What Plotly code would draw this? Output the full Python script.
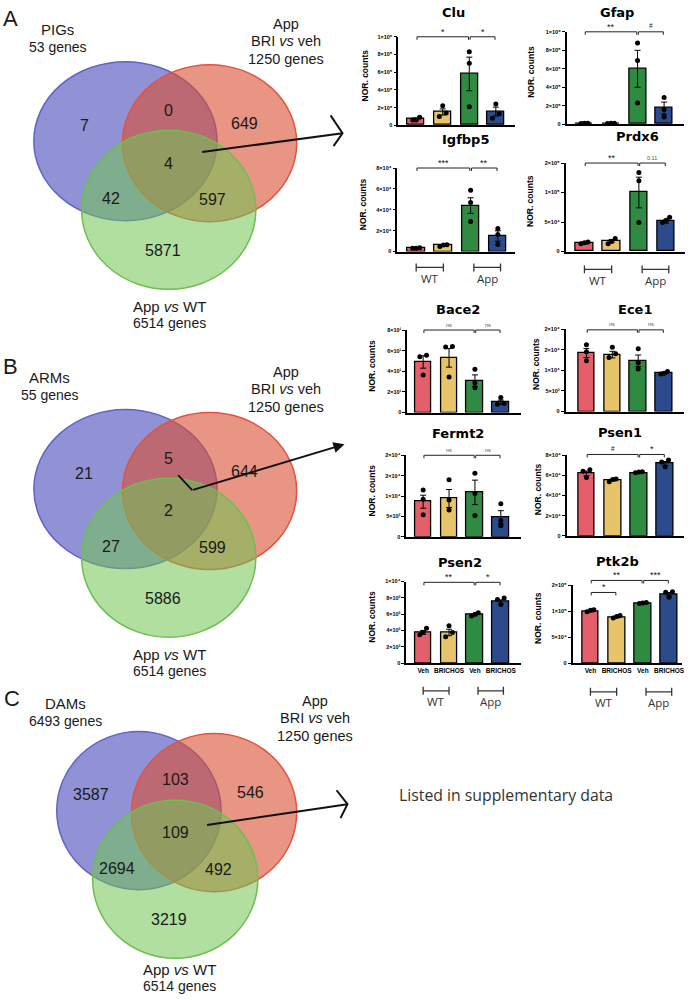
import plotly.graph_objects as go

W, H = 691, 1000


def PX(x):
    return x / W


def PY(y):
    return 1 - y / H


# ---------------------------------------------------------------- data
conditions = ["Veh", "BRICHOS", "Veh", "BRICHOS"]
genes = ["Clu", "Gfap", "Igfbp5", "Prdx6", "Bace2", "Ece1", "Fermt2", "Psen1", "Psen2", "Ptk2b"]

clu_mean = [7.0e4, 1.5e5, 5.8e5, 1.55e5]
clu_sem = [1.0e4, 3.5e4, 1.9e5, 5.0e4]
clu_pts = [[9.0e4, 6.0e4, 6.0e4], [2.2e5, 1.4e5, 1.0e5], [8.3e5, 7.0e5, 2.1e5], [2.4e5, 1.3e5, 8.0e4]]

gfap_mean = [1.0e4, 1.0e4, 6.0e5, 1.75e5]
gfap_sem = [1.0e3, 1.0e3, 2.0e5, 6.5e4]
gfap_pts = [[1.1e4, 1.0e4, 0.9e4], [1.0e4, 0.9e4, 1.1e4], [8.8e5, 6.9e5, 2.3e5], [2.9e5, 1.6e5, 8.0e4]]

igfbp5_mean = [3.1e3, 6.0e3, 4.4e4, 1.48e4]
igfbp5_sem = [3.0e2, 6.0e2, 7.5e3, 5.0e3]
igfbp5_pts = [[3.5e3, 3.0e3, 3.0e3], [6.5e3, 6.3e3, 4.8e3], [5.86e4, 4.7e4, 2.87e4], [2.2e4, 1.64e4, 6.6e3]]

prdx6_mean = [1.4e4, 1.8e4, 1.0e5, 5.1e4]
prdx6_sem = [1.5e3, 2.5e3, 2.6e4, 3.0e3]
prdx6_pts = [[1.3e4, 1.5e4, 1.6e4], [2.2e4, 1.7e4, 1.3e4], [1.34e5, 1.2e5, 4.9e4], [5.8e4, 5.3e4, 4.9e4]]

bace2_mean = [49, 53, 31, 10]
bace2_sem = [6, 9, 5.5, 2]
bace2_pts = [[55.5, 54, 36.5], [64, 63.5, 34.5], [42, 29, 24], [14.5, 8.7, 8]]

ece1_mean = [14.2e3, 13.8e3, 12.3e3, 9.3e3]
ece1_sem = [1.1e3, 0.8e3, 1.4e3, 0.2e3]
ece1_pts = [[16.2e3, 14.5e3, 12.3e3], [15.6e3, 14.0e3, 13.1e3], [15.2e3, 11.8e3, 10.3e3], [9.7e3, 9.3e3, 9.1e3]]

fermt2_mean = [8.6e3, 9.4e3, 10.9e3, 4.8e3]
fermt2_sem = [1.6e3, 2.2e3, 3.0e3, 1.6e3]
fermt2_pts = [[11.5e3, 9.2e3, 5.4e3], [14.0e3, 9.0e3, 6.6e3], [15.6e3, 10.6e3, 5.2e3], [8.1e3, 4.0e3, 2.7e3]]

psen1_mean = [62.0e3, 55.4e3, 62.3e3, 71.8e3]
psen1_sem = [2.3e3, 0.8e3, 0.3e3, 2.0e3]
psen1_pts = [[65.6e3, 64.0e3, 58.0e3], [56.4e3, 56.0e3, 53.8e3], [63.6e3, 63.3e3, 62.6e3], [75.4e3, 73.4e3, 68.5e3]]

psen2_mean = [3.75e3, 3.75e3, 5.9e3, 7.5e3]
psen2_sem = [0.25e3, 0.4e3, 0.1e3, 0.25e3]
psen2_pts = [[4.27e3, 3.75e3, 3.47e3], [4.56e3, 3.75e3, 3.23e3], [6.17e3, 5.97e3, 5.77e3], [7.98e3, 7.78e3, 7.18e3]]

ptk2b_mean = [1.0e5, 8.9e4, 1.15e5, 1.33e5]
ptk2b_sem = [1.2e3, 1.5e3, 0.6e3, 3.3e3]
ptk2b_pts = [[0.99e5, 1.02e5, 1.03e5], [8.7e4, 9.0e4, 9.2e4], [1.16e5, 1.17e5, 1.15e5], [1.38e5, 1.37e5, 1.27e5]]

# y ticks per gene
ticks_1e6 = [0, 2e5, 4e5, 6e5, 8e5, 1e6]
ticks_1e6_txt = ["0", "2×10⁵", "4×10⁵", "6×10⁵", "8×10⁵", "1×10⁶"]
ticks_8e4 = [0, 2e4, 4e4, 6e4, 8e4]
ticks_8e4_txt = ["0", "2×10⁴", "4×10⁴", "6×10⁴", "8×10⁴"]
ticks_15e4 = [0, 5e4, 1e5, 1.5e5]
ticks_15e4_txt = ["0", "5×10⁴", "1×10⁵", "2×10⁵"]
ticks_80 = [0, 20, 40, 60, 80]
ticks_80_txt = ["0", "2×10¹", "4×10¹", "6×10¹", "8×10¹"]
ticks_2e4 = [0, 5e3, 1e4, 1.5e4, 2e4]
ticks_2e4_txt = ["0", "5×10³", "1×10⁴", "2×10⁴", "2×10⁴"]
ticks_1e4 = [0, 2e3, 4e3, 6e3, 8e3, 1e4]
ticks_1e4_txt = ["0", "2×10³", "4×10³", "6×10³", "8×10³", "1×10⁴"]

# significance: (group i, group j, label, bracket level as fraction of y range)
clu_sig = [(0, 2, "*", 1.0), (2, 3, "*", 1.0)]
gfap_sig = [(0, 2, "**", 1.0), (2, 3, "#", 1.0)]
igfbp5_sig = [(0, 2, "***", 1.0), (2, 3, "**", 1.0)]
prdx6_sig = [(0, 2, "**", 1.0), (2, 3, "0.11", 1.0)]
bace2_sig = [(0, 2, "ns", 1.0), (2, 3, "ns", 1.0)]
ece1_sig = [(0, 2, "ns", 0.99), (2, 3, "ns", 0.99)]
fermt2_sig = [(0, 2, "ns", 1.0), (2, 3, "ns", 1.0)]
psen1_sig = [(0, 2, "#", 1.01), (2, 3, "*", 1.01)]
psen2_sig = [(0, 2, "**", 0.99), (2, 3, "*", 0.99)]
ptk2b_sig = [(0, 2, "**", 1.065), (2, 3, "***", 1.065), (0, 1, "*", 0.91)]

# Venn counts: only1, 1&2, only2, all, 1&3, 2&3, only3
venn_a_counts = [7, 0, 649, 4, 42, 597, 5871]
venn_b_counts = [21, 5, 644, 2, 27, 599, 5886]
venn_c_counts = [3587, 103, 546, 109, 2694, 492, 3219]
venn_a_set1 = ["PIGs", "53 genes"]
venn_b_set1 = ["ARMs", "55 genes"]
venn_c_set1 = ["DAMs", "6493 genes"]
set2_label = ["App", "BRI <i>vs</i> veh", "1250 genes"]
set3_label = ["App <i>vs</i> WT", "6514 genes"]

# ---------------------------------------------------------------- styles / layout
bar_colors = ["#e45f6a", "#e7c46a", "#2f8b41", "#2b4b8c"]
FONT = "Liberation Sans, Arial, sans-serif"

data = {
    "Clu": (clu_mean, clu_sem, clu_pts, ticks_1e6, ticks_1e6_txt, clu_sig),
    "Gfap": (gfap_mean, gfap_sem, gfap_pts, ticks_1e6, ticks_1e6_txt, gfap_sig),
    "Igfbp5": (igfbp5_mean, igfbp5_sem, igfbp5_pts, ticks_8e4, ticks_8e4_txt, igfbp5_sig),
    "Prdx6": (prdx6_mean, prdx6_sem, prdx6_pts, ticks_15e4, ticks_15e4_txt, prdx6_sig),
    "Bace2": (bace2_mean, bace2_sem, bace2_pts, ticks_80, ticks_80_txt, bace2_sig),
    "Ece1": (ece1_mean, ece1_sem, ece1_pts, ticks_2e4, ticks_2e4_txt, ece1_sig),
    "Fermt2": (fermt2_mean, fermt2_sem, fermt2_pts, ticks_2e4, ticks_2e4_txt, fermt2_sig),
    "Psen1": (psen1_mean, psen1_sem, psen1_pts, ticks_8e4, ticks_8e4_txt, psen1_sig),
    "Psen2": (psen2_mean, psen2_sem, psen2_pts, ticks_1e4, ticks_1e4_txt, psen2_sig),
    "Ptk2b": (ptk2b_mean, ptk2b_sem, ptk2b_pts, ticks_15e4, ticks_15e4_txt, ptk2b_sig),
}

# pixel boxes: x0, x1, ytop, ybottom, first bar centre, last bar centre, title pos, ytitle x
boxes = {
    "Clu": (400, 517, 34, 123, 418, 498, (455, 10), 367),
    "Gfap": (569, 687, 29, 122, 587, 667, (620, 10), 533),
    "Igfbp5": (399, 517, 166, 250, 418, 500, (468, 137), 364),
    "Prdx6": (568, 688, 161, 250, 587, 669, (640, 134), 533),
    "Bace2": (409, 523, 329, 412, 425, 503, (460, 308), 374),
    "Ece1": (568, 687, 328, 411, 589, 667, (638, 308), 539),
    "Fermt2": (408, 523, 455, 537, 425, 503, (460, 433), 374),
    "Psen1": (569, 687, 455, 536, 589, 668, (623, 432), 540),
    "Psen2": (408, 523, 582, 664, 425, 503, (462, 563), 374),
    "Ptk2b": (575, 685, 586, 664, 593, 672, (620, 562), 541),
}
label_genes = ["Psen2", "Ptk2b"]
group_genes = {"Igfbp5": 266, "Prdx6": 268, "Psen2": 692, "Ptk2b": 693}


def dot_offsets(vals, rng, gap=0.06, step=0.13):
    order = sorted(range(len(vals)), key=lambda i: vals[i])
    clusters = []
    for i in order:
        if clusters and vals[i] - vals[clusters[-1][-1]] < gap * rng:
            clusters[-1].append(i)
        else:
            clusters.append([i])
    off = [0.0] * len(vals)
    for c in clusters:
        n = len(c)
        for k, i in enumerate(c):
            off[i] = 0.0 if n == 1 else (k - (n - 1) / 2) * step * (2 if n == 2 else 1.0)
    return off


fig = go.Figure()
shapes = []
annotations = []
layout = {}

for n, g in enumerate(genes, start=1):
    mean, sem, pts, tv, tt, sig = data[g]
    x0, x1, yt, yb, c0, c3, tpos, ytx = boxes[g]
    s = (c3 - c0) / 3
    lo = -(c0 - x0) / s
    hi = 3 + (x1 - c3) / s
    ymax = tv[-1]
    hpx = yb - yt
    xa = "x" if n == 1 else f"x{n}"
    ya = "y" if n == 1 else f"y{n}"
    xk = "xaxis" if n == 1 else f"xaxis{n}"
    yk = "yaxis" if n == 1 else f"yaxis{n}"

    fig.add_trace(go.Bar(
        x=[0, 1, 2, 3], y=mean, width=0.64,
        marker=dict(color=bar_colors, line=dict(color="black", width=1.3)),
        error_y=dict(type="data", array=sem, color="black", thickness=1, width=3),
        xaxis=xa, yaxis=ya, hoverinfo="skip"))
    xs, ys = [], []
    for i, p in enumerate(pts):
        offs = dot_offsets(p, ymax)
        xs += [i + o for o in offs]
        ys += p
    fig.add_trace(go.Scatter(
        x=xs, y=ys, mode="markers", marker=dict(color="black", size=5),
        xaxis=xa, yaxis=ya, cliponaxis=False, hoverinfo="skip"))

    layout[xk] = dict(domain=[PX(x0), PX(x1)], range=[lo, hi], anchor=ya,
                      showline=True, linecolor="black", linewidth=1.5,
                      showgrid=False, zeroline=False, ticks="",
                      tickvals=[0, 1, 2, 3], ticktext=conditions,
                      showticklabels=(g in label_genes),
                      tickfont=dict(family=FONT, size=6.5, color="black", weight="bold"),
                      fixedrange=True)
    layout[yk] = dict(domain=[PY(yb), PY(yt)], range=[0, ymax], anchor=xa,
                      showline=True, linecolor="black", linewidth=1.5,
                      showgrid=False, zeroline=False, ticks="outside", ticklen=3,
                      tickwidth=1, tickcolor="black", tickvals=tv, ticktext=tt,
                      tickfont=dict(family=FONT, size=5.5, color="black", weight="bold"),
                      fixedrange=True)

    # titles
    annotations.append(dict(x=PX(tpos[0]), y=PY(tpos[1]), xref="paper", yref="paper",
                            text=f"<b>{g}</b>", showarrow=False,
                            font=dict(family="DejaVu Sans, sans-serif", size=13, color="black"),
                            xanchor="center", yanchor="middle"))
    annotations.append(dict(x=PX(ytx), y=PY((yt + yb) / 2 - 6), xref="paper", yref="paper",
                            text="<b>NOR. counts</b>", showarrow=False, textangle=-90,
                            font=dict(family=FONT, size=8.5, color="black"),
                            xanchor="center", yanchor="middle"))

    # significance brackets
    t = 3.0 / hpx
    for (i, j, lab, lev) in sig:
        a, b = i + 0.03, j - 0.03
        for seg in [(a, lev, b, lev), (a, lev, a, lev - t), (b, lev, b, lev - t)]:
            shapes.append(dict(type="line", xref=xa, yref=f"{ya} domain",
                               x0=seg[0], y0=seg[1], x1=seg[2], y1=seg[3],
                               line=dict(color="#222", width=1)))
        if lab in ("ns", "0.11"):
            fnt = dict(family=FONT, size=5.5, color="#555")
            shift = 0.5
        elif lab == "#":
            fnt = dict(family=FONT, size=6.5, color="#222")
            shift = 0.5
        else:
            fnt = dict(family=FONT, size=9, color="#111")
            shift = -2
        annotations.append(dict(x=(i + j) / 2, y=lev, xref=xa, yref=f"{ya} domain",
                                text=lab, showarrow=False, font=fnt,
                                xanchor="center", yanchor="bottom", yshift=shift))

    # WT / App group brackets
    if g in group_genes:
        gy = group_genes[g]
        for (ga, gb, name) in [(0.0, 1.0, "WT"), (2.12, 3.1, "App")]:
            shapes.append(dict(type="line", xref=xa, yref="paper", x0=ga, x1=gb,
                               y0=PY(gy), y1=PY(gy), line=dict(color="#333", width=1.3)))
            for xe in (ga, gb):
                shapes.append(dict(type="line", xref=xa, yref="paper", x0=xe, x1=xe,
                                   y0=PY(gy - 4), y1=PY(gy + 4),
                                   line=dict(color="#333", width=1.3)))
            annotations.append(dict(x=(ga + gb) / 2, y=PY(gy + 11), xref=xa, yref="paper",
                                    text=name, showarrow=False,
                                    font=dict(family="Open Sans, sans-serif", size=11.5, color="#333"),
                                    xanchor="center", yanchor="middle"))

# ---------------------------------------------------------------- Venn diagrams
BLUE = dict(fill="rgba(72,74,186,0.60)", line="rgb(95,98,200)")
RED = dict(fill="rgba(218,78,48,0.60)", line="rgb(226,82,62)")
GREEN = dict(fill="rgba(112,196,82,0.55)", line="rgb(110,190,82)")

BY = 350  # vertical offset of panel B relative to panel A

venns = [
    dict(letter="A", letter_pos=(11, 16), counts=venn_a_counts, set1=venn_a_set1,
         circles=[((126, 139, 92, 80), BLUE), ((210.5, 141, 87.5, 79), RED), ((169.5, 208, 87.5, 80), GREEN)],
         set1_pos=(58, 27), set2_pos=(287, 21), set3_pos=(170, 305)),
    dict(letter="B", letter_pos=(11, 16 + BY), counts=venn_b_counts, set1=venn_b_set1,
         circles=[((126, 139 + BY, 92, 80), BLUE), ((210.5, 141 + BY, 87.5, 79), RED),
                  ((169.5, 208 + BY, 87.5, 80), GREEN)],
         set1_pos=(50, 27 + BY), set2_pos=(287, 21 + BY), set3_pos=(170, 305 + BY)),
    dict(letter="C", letter_pos=(12, 700), counts=venn_c_counts, set1=venn_c_set1,
         circles=[((139.5, 812.5, 82.5, 79.5), BLUE), ((215, 814.5, 83, 79.5), RED), ((176, 881.5, 83, 79.5), GREEN)],
         set1_pos=(66, 705), set2_pos=(316, 702), set3_pos=(180, 972)),
]
# region label offsets relative to the third circle centre
region_offsets = [(-85, -85), (0, -100), (76, -87), (0, -47), (-58, -11), (43.5, -10), (-6, 41)]

for v in venns:
    for (cx, cy, rx, ry), st in v["circles"]:
        shapes.append(dict(type="circle", xref="paper", yref="paper",
                           x0=PX(cx - rx), x1=PX(cx + rx), y0=PY(cy + ry), y1=PY(cy - ry),
                           fillcolor=st["fill"], line=dict(color=st["line"], width=1.5),
                           layer="above"))
    gx, gy = v["circles"][2][0][0], v["circles"][2][0][1]
    for cnt, (dx, dy) in zip(v["counts"], region_offsets):
        annotations.append(dict(x=PX(gx + dx), y=PY(gy + dy), xref="paper", yref="paper",
                                text=str(cnt), showarrow=False,
                                font=dict(family=FONT, size=16, color="#1a1a1a"),
                                xanchor="center", yanchor="middle"))
    annotations.append(dict(x=PX(v["letter_pos"][0]), y=PY(v["letter_pos"][1]), xref="paper",
                            yref="paper", text=v["letter"], showarrow=False,
                            font=dict(family=FONT, size=22, color="#1a1a1a"),
                            xanchor="center", yanchor="middle"))
    sx, sy = v["set1_pos"]
    for k, line in enumerate(v["set1"]):
        annotations.append(dict(x=PX(sx), y=PY(sy + 17.5 * k), xref="paper", yref="paper",
                                text=line, showarrow=False,
                                font=dict(family=FONT, size=15 if k == 0 else 14, color="#1a1a1a"),
                                xanchor="center", yanchor="middle"))
    sx, sy = v["set2_pos"]
    for k, line in enumerate(set2_label):
        annotations.append(dict(x=PX(sx), y=PY(sy + 17.5 * k), xref="paper", yref="paper",
                                text=line, showarrow=False,
                                font=dict(family=FONT, size=14.5, color="#1a1a1a"),
                                xanchor="center", yanchor="middle"))
    sx, sy = v["set3_pos"]
    for k, line in enumerate(set3_label):
        annotations.append(dict(x=PX(sx), y=PY(sy + 17 * k), xref="paper", yref="paper",
                                text=line, showarrow=False,
                                font=dict(family=FONT, size=15 if k == 0 else 14, color="#1a1a1a"),
                                xanchor="center", yanchor="middle"))


def path(points):
    return "M " + " L ".join(f"{PX(x):.5f},{PY(y):.5f}" for x, y in points)


# arrows A and C (open chevrons)
for start, end, top, bot in [((203, 150), (344, 131), (332, 113), (335, 144)),
                             ((208, 827), (349, 806), (338, 792), (342, 820))]:
    shapes.append(dict(type="path", xref="paper", yref="paper", path=path([start, end]),
                       line=dict(color="#111", width=2)))
    shapes.append(dict(type="path", xref="paper", yref="paper", path=path([top, end, bot]),
                       line=dict(color="#111", width=2)))
# arrow B
shapes.append(dict(type="path", xref="paper", yref="paper",
                   path=path([(179, 125 + BY), (193, 140 + BY)]),
                   line=dict(color="#111", width=1.8)))
annotations.append(dict(x=PX(346), y=PY(94 + BY), ax=193 - 346, ay=46, xref="paper", yref="paper",
                        axref="pixel", ayref="pixel", text="", showarrow=True, arrowhead=2,
                        arrowsize=1.1, arrowwidth=2, arrowcolor="#111"))

annotations.append(dict(x=PX(508), y=PY(797), xref="paper", yref="paper",
                        text="Listed in supplementary data", showarrow=False,
                        font=dict(family="Open Sans, sans-serif", size=15.8, color="#333"),
                        xanchor="center", yanchor="middle"))

fig.update_layout(width=W, height=H, margin=dict(l=0, r=0, t=0, b=0),
                  paper_bgcolor="white", plot_bgcolor="rgba(0,0,0,0)",
                  showlegend=False, shapes=shapes, annotations=annotations,
                  bargap=0, **layout)

fig.write_html("out.html", config={"displayModeBar": False},
               post_script="document.body.style.margin='0px';")
